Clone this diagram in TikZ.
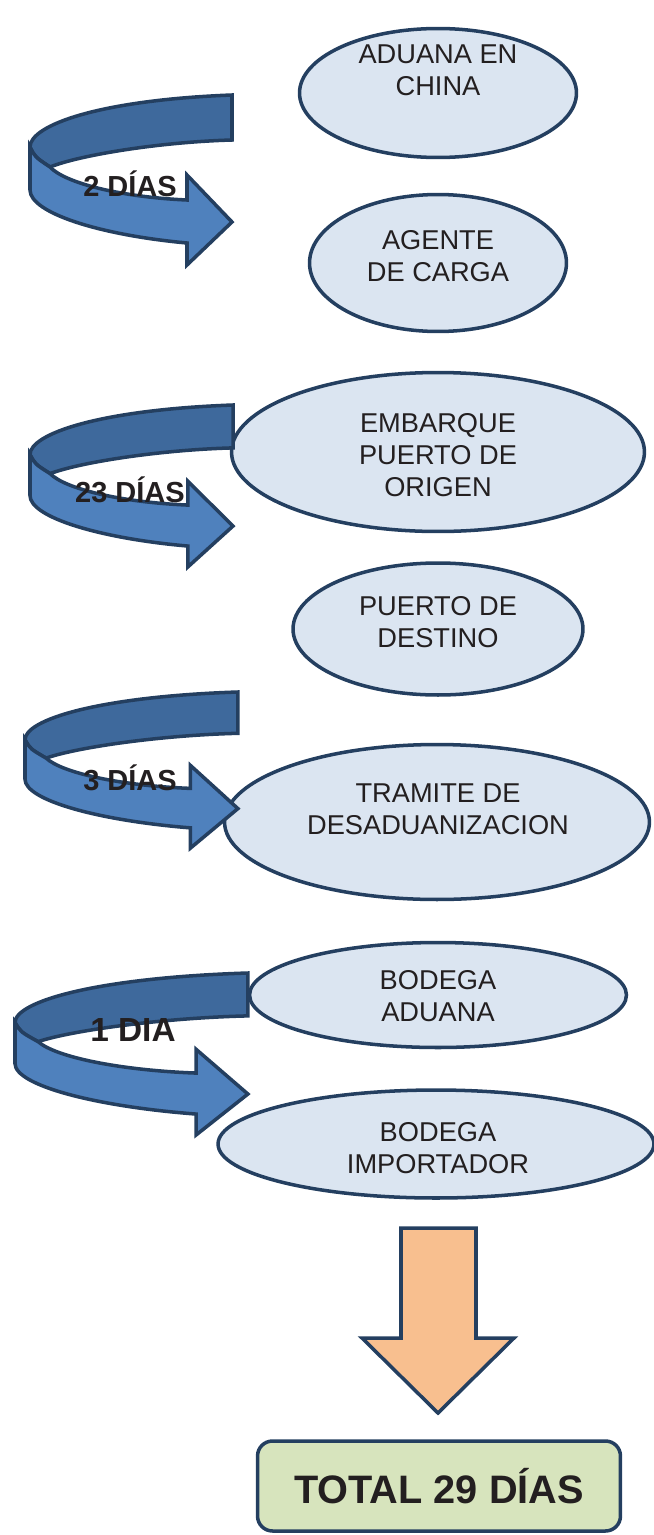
\documentclass[tikz,border=0pt]{standalone}
\usepackage{fontspec}
\setmainfont{Liberation Sans}
\usepackage{tikz}
\usetikzlibrary{shapes.geometric,positioning}

% curved ribbon arrow: #1,#2 shift, #3 xscale, #4 yscale
\newcommand{\giro}[4]{%
\begin{scope}[shift={(#1,#2)},xscale=#3,yscale=#4]
\filldraw[banda,fill=cdb] (202,0) -- (202,45) .. controls (130,47) and (50,60) .. (20,72) .. controls (5,62) .. (0,52) .. controls (0,30) and (70,5) .. (202,0) -- cycle;
\filldraw[banda,fill=clb] (0,52) -- (0,95) .. controls (0,118) and (70,140) .. (157,148) -- (157,170) -- (202,127) -- (157,80) -- (157,105) .. controls (90,102) and (35,88) .. (20,72) .. controls (5,62) .. (0,52) -- cycle;
\end{scope}}

\begin{document}
\begin{tikzpicture}[x=0.02cm,y=-0.02cm,
  nube/.style={ellipse,draw=cbo,fill=cfe,line width=2pt,inner sep=0pt},
  rotulo/.style={align=center,text=ctx,font=\fontsize{15.5}{18}\selectfont},
  dias/.style={text=ctx,font=\bfseries\fontsize{16.5}{19}\selectfont,inner sep=0pt},
  banda/.style={draw=cbo,line width=2pt,line join=miter},
  total/.style={draw=cbo,fill=cft,line width=2pt,rounded corners=0.3cm,
    minimum width=7.26cm,minimum height=1.8cm,text=ctx,font=\bfseries\fontsize{22.6}{26}\selectfont}]
%
\useasboundingbox (0,0) rectangle (653,1535);
%
\definecolor{cbo}{rgb}{0.141,0.247,0.376}
\definecolor{cfe}{rgb}{0.859,0.898,0.945}
\definecolor{cdb}{rgb}{0.243,0.412,0.612}
\definecolor{clb}{rgb}{0.310,0.506,0.741}
\definecolor{cfo}{rgb}{0.973,0.749,0.561}
\definecolor{cft}{rgb}{0.843,0.894,0.741}
\definecolor{ctx}{rgb}{0.137,0.122,0.125}
%
\node[nube,minimum width=5.54cm,minimum height=2.58cm] (e1) at (438,93) {};
\node[nube,minimum width=5.14cm,minimum height=2.74cm] (e2) at (438,263) {};
\node[nube,minimum width=8.26cm,minimum height=3.18cm] (e3) at (438,452) {};
\node[nube,minimum width=5.8cm,minimum height=2.64cm] (e4) at (438,629) {};
\node[nube,minimum width=8.5cm,minimum height=3.1cm] (e5) at (437,822) {};
\node[nube,minimum width=7.54cm,minimum height=2.1cm] (e6) at (438,995) {};
\node[nube,minimum width=8.72cm,minimum height=2.16cm] (e7) at (436,1144) {};
%
\node[rotulo] (t1) at (438,70) {ADUANA EN\\CHINA};
\node[rotulo] (t2) at (438,256) {AGENTE\\DE CARGA};
\node[rotulo] (t3) at (438,455) {EMBARQUE\\PUERTO DE\\ORIGEN};
\node[rotulo] (t4) at (438,622) {PUERTO DE\\DESTINO};
\node[rotulo] (t5) at (438,809) {TRAMITE DE\\DESADUANIZACION};
\node[rotulo] (t6) at (438,996) {BODEGA\\ADUANA};
\node[rotulo] (t7) at (438,1148) {BODEGA\\IMPORTADOR};
%
\giro{30}{95}{1}{1}
\giro{30}{405}{1.005}{0.953}
\giro{25}{692}{1.054}{0.918}
\giro{15}{973}{1.153}{0.953}
%
\node[dias] (d1) at (130,184) {2 DÍAS};
\node[dias] (d2) at (130,490) {23 DÍAS};
\node[dias] (d3) at (130,778) {3 DÍAS};
\node[dias,font=\bfseries\fontsize{19}{22}\selectfont] (d4) at (133,1030) {1 DIA};
%
\filldraw[banda,fill=cfo] (401,1228) -- (476,1228) -- (476,1338) -- (514,1338) -- (438,1413) -- (362,1338) -- (401,1338) -- cycle;
\node[total] (tot) at (439,1486) {TOTAL 29 DÍAS};
%
\end{tikzpicture}
\end{document}
